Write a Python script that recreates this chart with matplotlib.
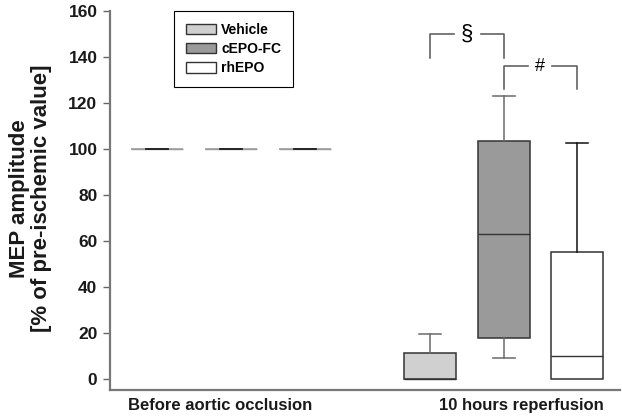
import matplotlib.pyplot as plt
from matplotlib.patches import Patch

plt.rcParams['font.family'] = ['Liberation Sans', 'DejaVu Sans']
plt.rcParams['font.weight'] = 'bold'

# data (box stats per group)
groups = ['Before aortic occlusion', '10 hours reperfusion']
treatments = ['Vehicle', 'cEPO-FC', 'rhEPO']
fills = ['#d0d0d0', '#9a9a9a', '#ffffff']
whisker_colors = ['#6a6a6a', '#6a6a6a', '#111111']

before_q1 = [100, 100, 100]
before_med = [100, 100, 100]
before_q3 = [100, 100, 100]
before_lo = [100, 100, 100]
before_hi = [100, 100, 100]

after_q1 = [0, 17.5, 0]
after_med = [0, 63, 10]
after_q3 = [11, 103.5, 55]
after_lo = [0, 9, 0]
after_hi = [19.5, 123, 102.5]

positions = [[0, 1, 2], [3.69, 4.69, 5.68]]

fig = plt.figure(figsize=(6.22, 4.16), dpi=100)
ax = fig.add_axes([0.1768, 0.0625, 0.8202, 0.9111])

stats_sets = [
    (before_q1, before_med, before_q3, before_lo, before_hi),
    (after_q1, after_med, after_q3, after_lo, after_hi),
]
for g, (q1, med, q3, lo, hi) in enumerate(stats_sets):
    for i in range(3):
        st = [dict(q1=q1[i], med=med[i], q3=q3[i], whislo=lo[i], whishi=hi[i], fliers=[])]
        if g == 0:
            edge, medc, capc = '#9a9a9a', '#9a9a9a', '#222222'
        else:
            edge, medc, capc = '#333333', '#333333', whisker_colors[i]
        art = ax.bxp(st, positions=[positions[g][i]], widths=0.70, patch_artist=True,
                     capwidths=0.3,
                     boxprops=dict(facecolor=fills[i], edgecolor=edge, linewidth=1.1),
                     medianprops=dict(color=medc, linewidth=1.0),
                     whiskerprops=dict(color=whisker_colors[i], linewidth=1.1),
                     capprops=dict(color=capc, linewidth=1.1))
        if g == 1:
            # no cap where the whisker has zero length
            if lo[i] == q1[i]:
                art['caps'][0].set_visible(False)
            if hi[i] == q3[i]:
                art['caps'][1].set_visible(False)
        else:
            for c in art['caps']:
                c.set_zorder(3)

# significance brackets
ax.plot([3.69, 3.69, 4.69, 4.69], [139.5, 149.8, 149.8, 139.5], color='#555555', lw=1.1)
ax.text(4.19, 149.8, '§', ha='center', va='center', fontsize=16, fontweight='normal',
        backgroundcolor='white', family='Liberation Sans')
ax.plot([4.69, 4.69, 5.68, 5.68], [126.2, 136, 136, 126.2], color='#555555', lw=1.1)
ax.text(5.17, 136, '#', ha='center', va='center', fontsize=13, fontweight='normal',
        backgroundcolor='white', family='Liberation Sans')

ax.set_xlim(-0.635, 6.26)
ax.set_ylim(-5, 160)
ax.set_yticks(range(0, 161, 20))
ax.tick_params(axis='y', labelsize=12.5, length=5, width=1.0, color='#666666', pad=4,
               labelcolor='#1a1a1a')
ax.set_xticks([])
for s in ['top', 'right']:
    ax.spines[s].set_visible(False)
for s in ['left', 'bottom']:
    ax.spines[s].set_color('#777777')
    ax.spines[s].set_linewidth(1.6)

ax.set_ylabel('MEP amplitude\n[% of pre-ischemic value]', fontsize=16, fontweight='bold',
              linespacing=1.05, color='#1a1a1a')
ax.yaxis.set_label_coords(-0.114, 0.505)
ax.text(0.85, -0.053, groups[0], transform=ax.get_xaxis_transform(), ha='center',
        va='baseline', fontsize=12, fontweight='bold', color='#1a1a1a')
ax.text(4.92, -0.053, groups[1], transform=ax.get_xaxis_transform(), ha='center',
        va='baseline', fontsize=12, fontweight='bold', color='#1a1a1a')

handles = [Patch(facecolor=fills[i], edgecolor='#333333', linewidth=1.0) for i in range(3)]
leg = ax.legend(handles, treatments, loc='upper left', bbox_to_anchor=(174 / 622, 1 - 11 / 416),
                bbox_transform=fig.transFigure, fancybox=False, framealpha=1, edgecolor='black',
                prop=dict(size=10, weight='bold'), handlelength=2.2, handleheight=0.75,
                handletextpad=0.35, labelspacing=0.38, borderpad=0.85, borderaxespad=0)
leg.get_frame().set_linewidth(0.8)

fig.savefig('out.png', dpi=100)
